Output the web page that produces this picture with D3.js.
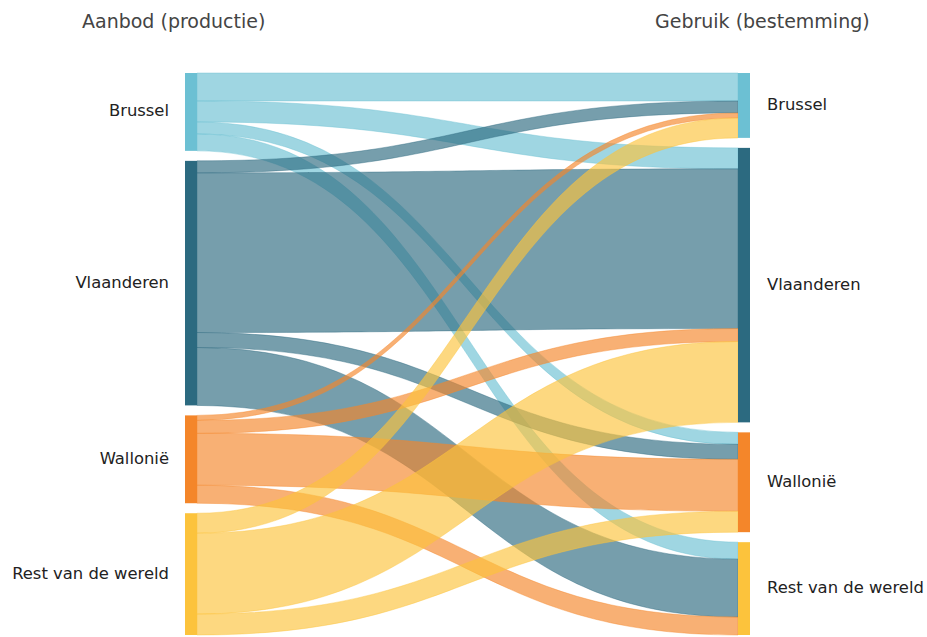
<!DOCTYPE html>
<html>
<head>
<meta charset="utf-8">
<script src="https://cdn.jsdelivr.net/npm/d3@7"></script>
<style>
  body { margin: 0; background: #fff; }
  .title { font-family: 'DejaVu Sans', sans-serif; font-size: 19px; fill: #444; }
  .nodeLabel { font-family: 'DejaVu Sans', sans-serif; font-size: 16.4px; fill: #222; }
</style>
</head>
<body>
<div id="sankey"></div>
<script>
// regions (same on both sides)
var regions = ['Brussel', 'Vlaanderen', 'Wallonië', 'Rest van de wereld'];

// flows from each producing region to each destination (same order as regions)
var fromBrussel = [28, 21, 12, 17];
var fromVlaanderen = [12, 160, 15, 58];
var fromWallonie = [5, 13, 52, 18];
var fromRest = [20, 81, 21, 0];

var nodeColors = ['#6cc0d3', '#2c6a80', '#f4862a', '#fcc33c'];

var flows = [fromBrussel, fromVlaanderen, fromWallonie, fromRest];

// SVG area
var svgWidth = 927;
var svgHeight = 637;

var chartTop = 73, chartBottom = 635;
var nodePad = 10;
var nodeWidth = 12;
var leftX = 185;
var rightX = 738;

var svg = d3.select('#sankey')
    .append('svg')
    .attr('width', svgWidth)
    .attr('height', svgHeight);

var total = d3.sum(flows, f => d3.sum(f));
var yScale = d3.scaleLinear()
    .domain([0, total])
    .range([0, (chartBottom - chartTop) - nodePad * (regions.length - 1)]);

// node totals
var outTotals = flows.map(f => d3.sum(f));
var inTotals = regions.map((r, j) => d3.sum(flows, f => f[j]));

function stackNodes(totals) {
    var y = chartTop;
    return totals.map(function(t) {
        var n = { y0: y, y1: y + yScale(t) };
        y = n.y1 + nodePad;
        return n;
    });
}
var leftNodes = stackNodes(outTotals);
var rightNodes = stackNodes(inTotals);

// build links; source side ordered by target, target side ordered by source
var links = [];
var srcOffset = leftNodes.map(n => n.y0);
var tgtOffset = rightNodes.map(n => n.y0);
flows.forEach(function(f, i) {
    f.forEach(function(v, j) {
        if (!v) return;
        links.push({ source: i, target: j, value: v });
    });
});
links.forEach(function(l) {
    var h = yScale(l.value);
    l.sy0 = srcOffset[l.source]; l.sy1 = l.sy0 + h; srcOffset[l.source] = l.sy1;
});
links.slice().sort((a, b) => a.source - b.source).forEach(function(l) {
    var h = yScale(l.value);
    l.ty0 = tgtOffset[l.target]; l.ty1 = l.ty0 + h; tgtOffset[l.target] = l.ty1;
});

function linkShape(l) {
    var x0 = leftX + nodeWidth, x1 = rightX;
    var xm = (x0 + x1) / 2;
    var p = d3.path();
    p.moveTo(x0, l.sy0);
    p.bezierCurveTo(xm, l.sy0, xm, l.ty0, x1, l.ty0);
    p.lineTo(x1, l.ty1);
    p.bezierCurveTo(xm, l.ty1, xm, l.sy1, x0, l.sy1);
    p.closePath();
    return p.toString();
}

svg.append('g')
    .selectAll('path')
    .data(links)
    .enter()
    .append('path')
    .attr('d', linkShape)
    .attr('fill', d => nodeColors[d.source])
    .attr('fill-opacity', 0.65)
    .attr('stroke', d => nodeColors[d.source])
    .attr('stroke-opacity', 0.5)
    .attr('stroke-width', 0.8);

// nodes
svg.append('g')
    .selectAll('rect')
    .data(leftNodes)
    .enter()
    .append('rect')
    .attr('x', leftX)
    .attr('y', d => d.y0)
    .attr('width', nodeWidth)
    .attr('height', d => d.y1 - d.y0)
    .attr('fill', (d, i) => nodeColors[i]);

svg.append('g')
    .selectAll('rect')
    .data(rightNodes)
    .enter()
    .append('rect')
    .attr('x', rightX)
    .attr('y', d => d.y0)
    .attr('width', nodeWidth)
    .attr('height', d => d.y1 - d.y0)
    .attr('fill', (d, i) => nodeColors[i]);

// labels
svg.append('g')
    .selectAll('text')
    .data(leftNodes)
    .enter()
    .append('text')
    .classed('nodeLabel', true)
    .attr('x', leftX - 16)
    .attr('y', d => (d.y0 + d.y1) / 2)
    .attr('dominant-baseline', 'middle')
    .attr('text-anchor', 'end')
    .text((d, i) => regions[i]);

svg.append('g')
    .selectAll('text')
    .data(rightNodes)
    .enter()
    .append('text')
    .classed('nodeLabel', true)
    .attr('x', rightX + nodeWidth + 17)
    .attr('y', d => (d.y0 + d.y1) / 2)
    .attr('dominant-baseline', 'middle')
    .text((d, i) => regions[i]);

// column titles
svg.append('text')
    .classed('title', true)
    .attr('x', 82)
    .attr('y', 22)
    .attr('dominant-baseline', 'middle')
    .text('Aanbod (productie)');

svg.append('text')
    .classed('title', true)
    .attr('x', 655)
    .attr('y', 22)
    .attr('dominant-baseline', 'middle')
    .text('Gebruik (bestemming)');
</script>
</body>
</html>
